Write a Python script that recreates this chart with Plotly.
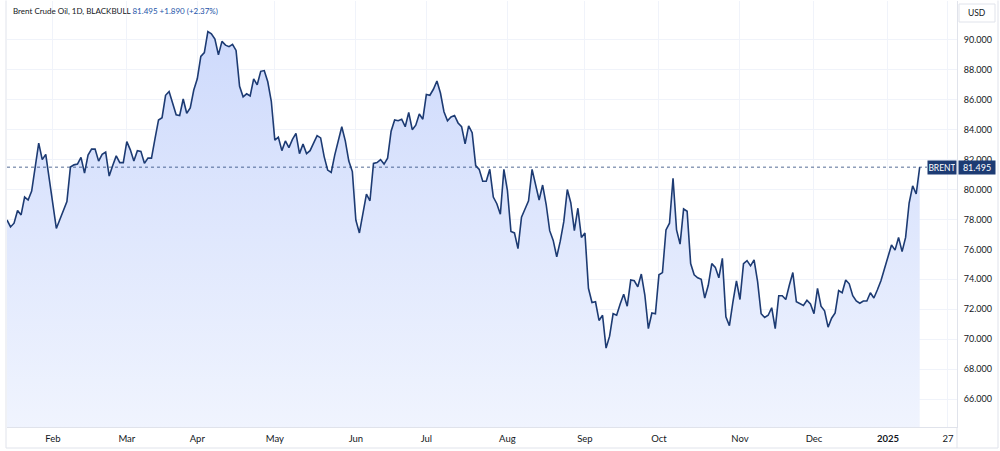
import pandas as pd
import plotly.graph_objects as go

# ---------------- data (daily closes) ----------------
jan24 = [77.97, 77.5, 77.75, 78.6, 78.3, 79.5, 79.3, 79.9, 81.5, 83.1, 82.0, 82.35, 80.7]
feb24 = [79.0, 77.4, 78.0, 78.6, 79.2, 81.5, 81.65, 81.7, 82.15, 81.1, 82.3, 82.7, 82.7,
         81.9, 82.35, 82.5, 80.9, 81.6, 82.25, 81.8, 81.8]
mar24 = [83.2, 82.65, 81.9, 82.6, 82.55, 81.75, 82.1, 82.1, 83.4, 84.65, 84.8, 86.3, 86.55,
         85.8, 85.0, 84.95, 86.05, 85.1, 85.45, 86.65]
apr24 = [87.4, 88.9, 89.15, 90.55, 90.4, 90.05, 89.0, 89.9, 89.65, 89.55, 89.7, 89.3, 86.9,
         86.2, 86.4, 86.25, 87.4, 87.0, 87.9, 87.95, 87.2, 85.9]
may24 = [83.3, 83.5, 82.6, 83.25, 82.8, 83.35, 83.75, 82.4, 83.05, 82.4, 82.6, 83.1, 83.6,
         83.45, 82.2, 81.3, 81.15, 82.3, 83.3, 84.2, 83.25, 81.9, 81.2]
jun24 = [77.95, 77.1, 78.3, 79.7, 79.25, 81.75, 81.8, 82.0, 81.7, 82.1, 83.9, 84.65, 84.6,
         84.7, 84.2, 85.15, 84.0, 84.3, 85.05, 84.7]
jul24 = [86.35, 86.3, 86.7, 87.25, 86.45, 85.2, 84.6, 84.85, 84.95, 84.45, 84.2, 83.05, 84.25,
         83.8, 81.6, 81.35, 80.55, 80.55, 81.35, 79.5, 79.05, 78.35, 81.35]
aug24 = [79.95, 77.2, 77.1, 76.05, 78.15, 78.7, 79.25, 81.35, 80.4, 79.3, 80.3, 79.0, 77.25,
         76.6, 75.5, 76.55, 77.85, 80.0, 79.1, 77.25, 78.75, 76.8]
sep24 = [77.1, 73.4, 72.45, 72.5, 71.25, 71.6, 69.4, 70.2, 71.7, 71.6, 72.35, 73.0, 72.2,
         73.95, 73.9, 73.5, 74.35, 72.95, 70.7, 71.75, 71.7]
oct24 = [74.3, 74.45, 77.3, 77.75, 80.75, 77.3, 76.35, 78.7, 78.55, 75.05, 74.3, 74.1, 74.0,
         72.75, 73.6, 75.05, 74.8, 74.1, 75.4, 71.5, 70.9, 72.5, 73.9]
nov24 = [72.65, 75.05, 75.25, 74.9, 75.3, 73.85, 71.7, 71.45, 71.6, 72.1, 70.7, 72.9, 72.9,
         72.65, 73.6, 74.45, 72.5, 72.35, 72.25, 72.6, 72.35]
dec24 = [71.7, 73.4, 72.2, 71.9, 70.8, 71.4, 71.75, 73.25, 73.1, 73.95, 73.7, 72.9, 72.55,
         72.4, 72.55, 72.55, 73.1, 72.75, 73.3, 73.9, 74.7]
jan25 = [75.55, 76.3, 75.95, 76.8, 75.85, 76.8, 79.1, 80.25, 79.7, 81.495]

holidays = ["2024-03-29", "2024-12-25", "2025-01-01"]
start_date, end_date = "2024-01-15", "2025-01-15"

tick_dates = ["2024-02-01", "2024-03-01", "2024-04-01", "2024-05-01", "2024-06-03",
              "2024-07-01", "2024-08-01", "2024-09-02", "2024-10-01", "2024-11-01",
              "2024-12-02", "2025-01-02", "2025-01-27"]
tick_labels = ["Feb", "Mar", "Apr", "May", "Jun", "Jul", "Aug", "Sep", "Oct", "Nov",
               "Dec", "<b>2025</b>", "27"]
price_ticks = [66, 68, 70, 72, 74, 76, 78, 80, 82, 84, 86, 88, 90]

last_price = 81.495
title_text = "Brent Crude Oil, 1D, BLACKBULL"
change_text = "81.495 +1.890 (+2.37%)"
# ---------------------------------------------------------------------------

prices = jan24 + feb24 + mar24 + apr24 + may24 + jun24 + jul24 + aug24 + sep24 + oct24 + nov24 + dec24 + jan25
dates = [d for d in pd.bdate_range(start_date, end_date) if d.strftime("%Y-%m-%d") not in holidays]
assert len(dates) == len(prices)

LINE = "#1d3b73"
GRID = "#f0f3fa"
BORDER = "#e0e3eb"
TXT = "#131722"
FONT = "Lato, Noto Sans, sans-serif"

# pixel helpers for layout geometry (plot area: x 7..957, y 1..427)
def px(p):
    return (p - 7) / 950.0

def py(p):
    return (427 - p) / 426.0

fig = go.Figure()
fig.add_trace(go.Scatter(
    x=dates, y=prices, mode="lines",
    line=dict(color=LINE, width=1.6),
    fill="tozeroy",
    fillgradient=dict(type="vertical",
                      colorscale=[[0, "rgb(240,244,254)"], [1, "rgb(206,218,252)"]],
                      start=64.1, stop=90.6),
    hoverinfo="skip", showlegend=False,
))

fig.update_layout(
    width=1000, height=451,
    margin=dict(l=7, r=43, t=1, b=24),
    paper_bgcolor="white", plot_bgcolor="white",
    font=dict(family=FONT, size=9, color=TXT),
    showlegend=False,
)
fig.update_xaxes(
    type="date",
    range=["2024-01-15", "2025-01-29 14:00"],
    rangebreaks=[dict(bounds=["sat", "mon"]), dict(values=holidays)],
    tickvals=tick_dates, ticktext=tick_labels,
    showgrid=True, gridcolor=GRID, gridwidth=1,
    ticks="outside", ticklen=3, tickcolor="rgba(0,0,0,0)",
    showline=True, linecolor=BORDER, linewidth=1,
    zeroline=False, tickfont=dict(family=FONT, size=9.5, color=TXT),
    fixedrange=True,
)
fig.update_yaxes(
    side="right", range=[64.13, 92.6],
    tickvals=price_ticks, tickformat=".3f",
    showgrid=True, gridcolor=GRID, gridwidth=1,
    ticks="outside", ticklen=4, tickcolor="rgba(0,0,0,0)",
    showline=True, linecolor=BORDER, linewidth=1,
    zeroline=False, tickfont=dict(family=FONT, size=9, color=TXT),
    fixedrange=True,
)

shapes = [
    # last-price dotted line
    dict(type="line", xref="paper", yref="y", x0=0, x1=px(927), y0=last_price, y1=last_price,
         line=dict(color="rgba(29,59,115,0.75)", width=1, dash="dot"), layer="above"),
    # USD button
    dict(type="rect", xref="paper", yref="paper", x0=px(959), x1=px(995), y0=py(22), y1=py(4),
         fillcolor="white", line=dict(color=BORDER, width=1), layer="above"),
    # outer frame
    dict(type="line", xref="paper", yref="paper", x0=px(6), x1=px(6), y0=py(448), y1=py(0.5),
         line=dict(color=BORDER, width=1)),
    dict(type="line", xref="paper", yref="paper", x0=px(998), x1=px(998), y0=py(448), y1=py(0.5),
         line=dict(color=BORDER, width=1)),
    dict(type="line", xref="paper", yref="paper", x0=px(6), x1=px(998), y0=py(448), y1=py(448),
         line=dict(color=BORDER, width=1)),
    dict(type="line", xref="paper", yref="paper", x0=px(957), x1=px(957), y0=py(448), y1=py(427),
         line=dict(color=BORDER, width=1)),
]
fig.update_layout(shapes=shapes)

annotations = [
    dict(text=f"{title_text} <span style='color:#2454a8'>{change_text}</span>",
         xref="paper", yref="paper", x=px(11), y=py(11), xanchor="left", yanchor="middle",
         showarrow=False, font=dict(family=FONT, size=8, color=TXT)),
    # series name tag
    dict(text="BRENT", xref="paper", yref="y", x=px(927), y=last_price, xanchor="left",
         yanchor="middle", showarrow=False, bgcolor=LINE, width=26, height=11, borderpad=1,
         align="center", font=dict(family=FONT, size=8.5, color="white")),
    # price tag (covers the lower part of the 82.000 label, as on the reference)
    dict(text=f"{last_price:.3f}", xref="paper", yref="y", x=px(958), y=last_price,
         xanchor="left", yanchor="middle", showarrow=False, bgcolor=LINE, width=34, height=11,
         borderpad=1, align="center", font=dict(family=FONT, size=9, color="white")),
    dict(text="USD", xref="paper", yref="paper", x=px(977), y=py(13), xanchor="center",
         yanchor="middle", showarrow=False, font=dict(family=FONT, size=8.5, color=TXT)),
]
fig.update_layout(annotations=annotations)

fig.write_html("out.html")
